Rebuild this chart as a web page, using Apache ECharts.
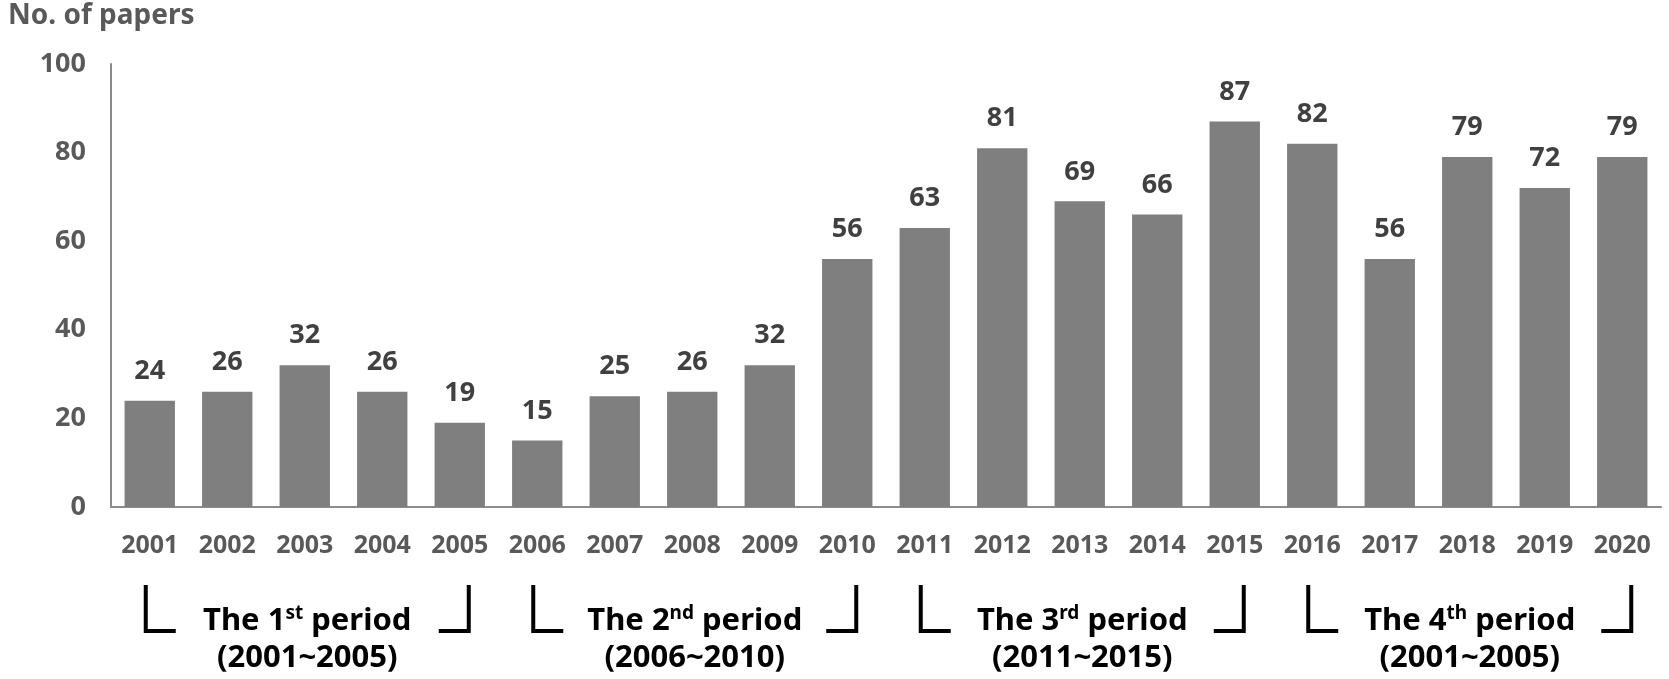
<!DOCTYPE html>
<html>
<head>
<meta charset="utf-8">
<script src="https://cdn.jsdelivr.net/npm/echarts@6/dist/echarts.min.js"></script>
<style>html,body{margin:0;padding:0;background:#fff}#c{width:1669px;height:679px}</style>
</head>
<body>
<div id="c"></div>
<script>
const years = ['2001','2002','2003','2004','2005','2006','2007','2008','2009','2010','2011','2012','2013','2014','2015','2016','2017','2018','2019','2020'];
const papers = [24,26,32,26,19,15,25,26,32,56,63,81,69,66,87,82,56,79,72,79];
const yTicks = [0,20,40,60,80,100];
const periods = [
  {num:'1', sup:'st', range:'(2001~2005)', from:'2001', to:'2005'},
  {num:'2', sup:'nd', range:'(2006~2010)', from:'2006', to:'2010'},
  {num:'3', sup:'rd', range:'(2011~2015)', from:'2011', to:'2015'},
  {num:'4', sup:'th', range:'(2001~2005)', from:'2016', to:'2020'}
];
const FONT = '"Noto Sans", "Noto Sans CJK KR", sans-serif';
const chart = echarts.init(document.getElementById('c'), null, {renderer:'canvas'});
const option = {
  animation:false,
  backgroundColor:'#ffffff',
  textStyle:{fontFamily:FONT},
  title:{text:'No. of papers', left:3, top:-3,
    textStyle:{fontFamily:FONT, fontSize:28, fontWeight:'bold', color:'#595959'}},
  grid:{left:111, right:8, top:64, bottom:172, containLabel:false},
  xAxis:{type:'category', data:years,
    axisLine:{show:true, lineStyle:{color:'#8c8c8c', width:2}},
    axisTick:{show:false},
    axisLabel:{margin:26, fontSize:25, fontWeight:'bold', color:'#595959', fontFamily:FONT, interval:0}},
  yAxis:{type:'value', min:yTicks[0], max:yTicks[yTicks.length-1], interval:20,
    axisLine:{show:true, lineStyle:{color:'#8c8c8c', width:2}},
    axisTick:{show:false},
    splitLine:{show:false},
    axisLabel:{margin:25, fontSize:27, fontWeight:'bold', color:'#595959', fontFamily:FONT}},
  series:[{type:'bar', data:papers, barCategoryGap:'35%',
    itemStyle:{color:'#7f7f7f'},
    label:{show:true, position:'top', distance:16, fontSize:27, fontWeight:'bold', color:'#404040', fontFamily:FONT}}]
};
chart.setOption(option);

function drawPeriods(){
  const zeroY = chart.convertToPixel({yAxisIndex:0}, 0);
  const els = [];
  const top = zeroY + 78, bot = zeroY + 124, arm = 30;
  periods.forEach(p => {
    const xl = chart.convertToPixel({xAxisIndex:0}, p.from) - 4;
    const xr = chart.convertToPixel({xAxisIndex:0}, p.to) + 9;
    els.push({type:'polyline', shape:{points:[[xl,top],[xl,bot],[xl+arm,bot]]},
      style:{stroke:'#000', lineWidth:4, fill:null, lineJoin:'miter'}});
    els.push({type:'polyline', shape:{points:[[xr,top],[xr,bot],[xr-arm,bot]]},
      style:{stroke:'#000', lineWidth:4, fill:null, lineJoin:'miter'}});
    const cx = (xl + xr) / 2;
    els.push({type:'text', x:cx, y:zeroY + 111,
      style:{text:'{a|The ' + p.num + '}{s|' + p.sup + '}{a| period}',
        align:'center', verticalAlign:'middle', fill:'#000',
        rich:{a:{fontSize:31, fontWeight:'bold', fontFamily:FONT, fill:'#000', lineHeight:38, verticalAlign:'bottom'},
              s:{fontSize:19, fontWeight:'bold', fontFamily:FONT, fill:'#000', lineHeight:22, padding:[5,0,0,0], verticalAlign:'top'}}}});
    els.push({type:'text', x:cx, y:zeroY + 151,
      style:{text:p.range, align:'center', verticalAlign:'middle', fill:'#000',
        font:'bold 31px ' + FONT}});
  });
  chart.setOption({graphic:{elements:els}});
}
drawPeriods();
</script>
</body>
</html>
